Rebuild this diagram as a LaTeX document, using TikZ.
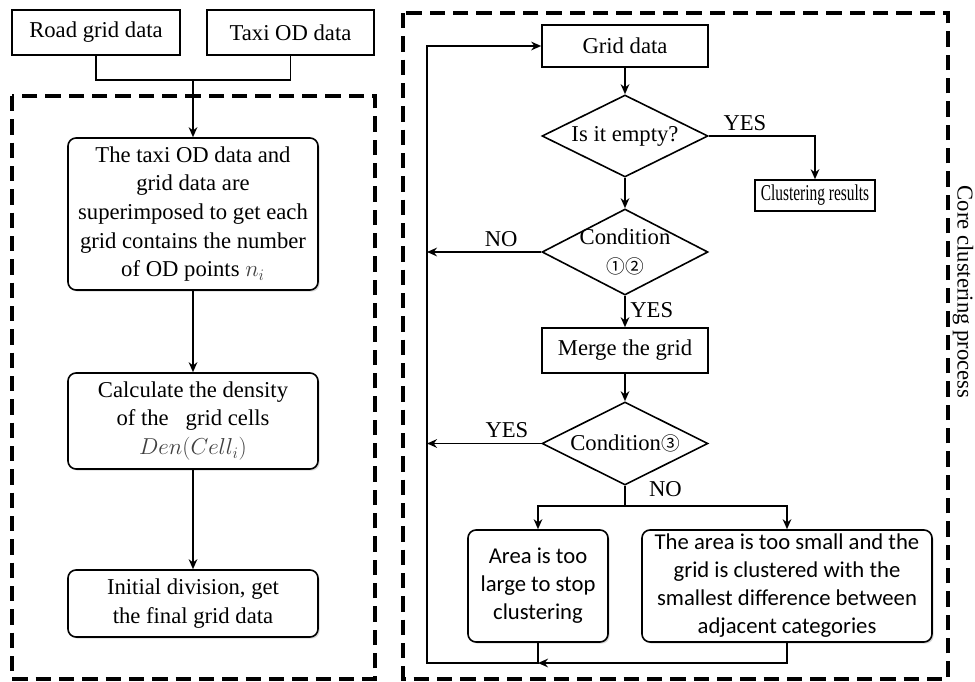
\documentclass[tikz,border=0pt]{standalone}
\usepackage{fontspec}
\setmainfont{Liberation Serif}
\newfontfamily\calibrifont{Carlito}
\newfontfamily\circfont{Noto Sans CJK SC}
\usepackage{tikz}
\usetikzlibrary{arrows.meta,positioning,shapes.geometric,shadows}

\begin{document}
\begin{tikzpicture}[
    x=0.75pt, y=-0.75pt,
    every node/.style={font=\fontsize{17}{21.5}\selectfont},
    plain/.style={rectangle, draw, line width=1.2pt, inner sep=2pt, fill=white},
    soft/.style={rectangle, draw, line width=1.2pt, rounded corners=6pt,
                 align=center, inner sep=2pt, fill=white,
                 drop shadow={shadow xshift=1.2pt, shadow yshift=-1.2pt, opacity=0.3}},
    choice/.style={diamond, draw, line width=1.2pt, inner sep=0pt, fill=white,
                   minimum width=124.5pt},
    arr/.style={line width=1.35pt, -{Stealth[length=7.5pt,width=6.5pt]}},
    link/.style={line width=1.35pt},
    frame/.style={line width=2.6pt, dash pattern=on 11.5pt off 6pt}
]
\useasboundingbox (0,0) rectangle (975,682);

% Frames
\draw[frame] (12,96) rectangle (375,679);
\draw[frame] (403,13) rectangle (948,679);
\node[rotate=-90] (title) at (963,292) {Core clustering process};

% Input data
\node[plain, minimum width=126pt, minimum height=33.75pt] (road) at (96,32.5) {Road grid data};
\node[plain, minimum width=125.25pt, minimum height=33.75pt] (taxi) at (290.5,32.5) {Taxi OD data};
\coordinate (join) at (193,80);

% Preprocessing column
\node[soft, minimum width=187.5pt, minimum height=114pt] (overlay) at (193,214)
    {The taxi OD data and\\grid data are\\superimposed to get each\\grid contains the number\\of OD points {\color{black!75}$n_i$}};
\node[soft, minimum width=187.5pt, minimum height=72pt] (density) at (193,421)
    {Calculate the density\\of the\ \ \ grid cells\\{\color{black!75}$Den(Cell_i)$}};
\node[soft, minimum width=187.5pt, minimum height=50.25pt] (initial) at (193,603.5)
    {Initial division, get\\the final grid data};

\draw[link] (road.south) |- (join) -| (taxi.south);
\draw[arr] (join) -- (overlay.north);
\draw[arr] (overlay) -- (density);
\draw[arr] (density) -- (initial);

% Clustering loop
\node[plain, minimum width=124.5pt, minimum height=31.5pt] (grid) at (625,46) {Grid data};
\node[choice, minimum height=61.5pt] (empty) at (625,136) {};
\node at (empty) {Is it empty?};
\node[plain, minimum width=90pt, minimum height=23.25pt] (result) at (815,195.5)
    {\scalebox{0.68}[1]{Clustering results}};
\node[choice, minimum height=64.5pt] (cond) at (625,252) {};
\node[align=center] at (cond) {Condition\\{\circfont\fontsize{14}{18}\selectfont ①②}};
\node[plain, minimum width=124.5pt, minimum height=33.75pt] (merge) at (625,350.5) {Merge the grid};
\node[choice, minimum height=62.25pt] (third) at (625,443.5) {};
\node at (third) {Condition{\circfont\fontsize{14}{18}\selectfont ③}};
\node[soft, font=\calibrifont\fontsize{17}{21}\selectfont,
      minimum width=105pt, minimum height=84pt] (large) at (538,586)
    {Area is too\\large to stop\\clustering};
\node[soft, font=\calibrifont\fontsize{17}{21}\selectfont,
      minimum width=217.5pt, minimum height=84pt] (small) at (787,586)
    {The area is too small and the\\grid is clustered with the\\smallest difference between\\adjacent categories};

\coordinate (split) at (625,506);
\coordinate (lt) at (427,46);
\coordinate (lb) at (427,663);
\coordinate (back) at (large.south |- lb);

\draw[arr] (grid) -- (empty);
\draw[arr] (empty.east) -| node[pos=0.17, above] {YES} (result.north);
\draw[arr] (empty) -- (cond);
\draw[arr] (cond.west) -- node[pos=0.35, above] {NO} (cond.west -| lt);
\draw[arr] (cond) -- node[pos=0.45, right] {YES} (merge);
\draw[arr] (merge) -- (third);
\draw[arr] (third.west) -- node[pos=0.3, above] {YES} (third.west -| lt);
\draw[link] (third.south) -- node[pos=0.15, right=14pt] {NO} (split);
\draw[arr] (split) -| (large.north);
\draw[arr] (split) -| (small.north);
\draw[arr] (small.south) |- (back);
\draw[arr] (large.south) -- (back) -- (lb) -- (lt) -- (grid.west);

\end{tikzpicture}
\end{document}
